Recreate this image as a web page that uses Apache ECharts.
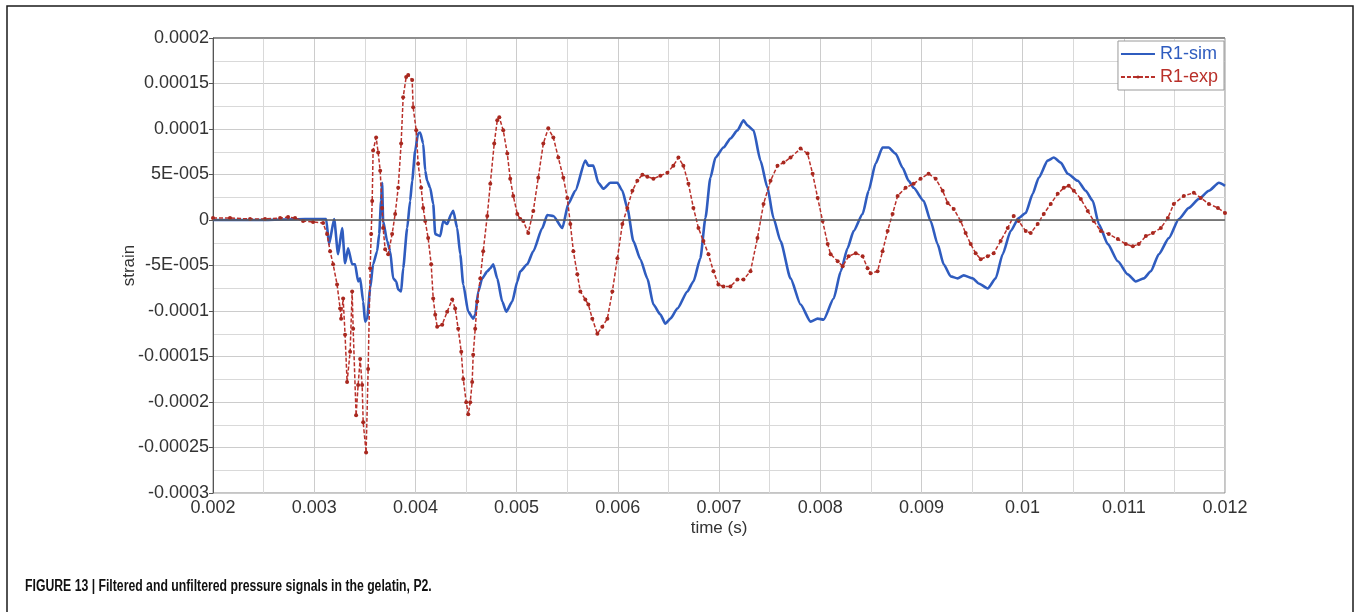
<!DOCTYPE html>
<html>
<head>
<meta charset="utf-8">
<title>R1 strain: simulation vs experiment</title>
<script src="https://cdn.jsdelivr.net/npm/echarts@6/dist/echarts.min.js"></script>
<style>
  html, body { margin: 0; padding: 0; background: #ffffff; }
  #chart { width: 1355px; height: 612px; }
</style>
</head>
<body>
<div id="chart"></div>
<script>
// ---- Data: time in milliseconds, strain in microstrain ----
const simTimeMs = [
  2.000, 2.465, 2.910, 3.088, 3.118, 3.147, 3.197, 3.236, 3.276, 3.305,
  3.335, 3.375, 3.404, 3.434, 3.454, 3.484, 3.503, 3.523, 3.553, 3.582,
  3.622, 3.642, 3.661, 3.671, 3.681, 3.721, 3.751, 3.780, 3.810, 3.830,
  3.859, 3.879, 3.919, 3.948, 3.968, 3.998, 4.027, 4.047, 4.077, 4.097,
  4.116, 4.146, 4.176, 4.196, 4.245, 4.275, 4.314, 4.354, 4.374, 4.413,
  4.443, 4.473, 4.522, 4.571, 4.591, 4.621, 4.660, 4.710, 4.740, 4.769,
  4.809, 4.858, 4.898, 4.957, 5.007, 5.036, 5.105, 5.165, 5.254, 5.303,
  5.363, 5.452, 5.511, 5.580, 5.679, 5.709, 5.758, 5.808, 5.857, 5.926,
  5.996, 6.045, 6.094, 6.154, 6.223, 6.292, 6.352, 6.421, 6.470, 6.520,
  6.589, 6.688, 6.747, 6.816, 6.866, 6.915, 6.965, 7.044, 7.113, 7.182,
  7.242, 7.281, 7.341, 7.410, 7.479, 7.538, 7.608, 7.707, 7.806, 7.905,
  7.975, 8.034, 8.133, 8.203, 8.270, 8.330, 8.419, 8.478, 8.547, 8.616,
  8.676, 8.745, 8.814, 8.874, 8.923, 9.022, 9.091, 9.160, 9.220, 9.289,
  9.358, 9.418, 9.507, 9.566, 9.655, 9.734, 9.803, 9.882, 9.961, 10.031,
  10.100, 10.159, 10.248, 10.308, 10.377, 10.446, 10.545, 10.624, 10.693, 10.753,
  10.842, 10.941, 11.039, 11.118, 11.198, 11.267, 11.346, 11.445, 11.544, 11.643,
  11.742, 11.841, 11.940, 12.000
];
const simMicrostrain = [
  0, 0, 1.1, 1.1, 1.1, -26.5, 1.1, -37.6, -8.8, -47.6,
  -31.0, -48.7, -48.7, -67.5, -64.2, -89.6, -111.7, -108.4, -75.2, -48.7,
  -34.3, -15.5, 21.0, 40.9, -1.1, -23.2, -34.3, -64.2, -67.5, -76.3,
  -78.5, -53.1, -8.8, 21.0, 43.1, 76.3, 95.1, 96.2, 84.1, 54.2,
  43.1, 35.4, 17.7, -15.5, -17.7, -1.1, -4.4, 6.6, 10.0, -8.8,
  -37.6, -70.8, -100.7, -108.4, -104.0, -78.5, -64.2, -56.4, -53.1, -48.7,
  -64.2, -89.6, -100.7, -89.6, -67.5, -56.4, -48.7, -34.3, -8.8, 5.5,
  4.4, -8.8, 17.7, 32.1, 65.3, 59.7, 59.7, 40.9, 34.3, 40.9,
  40.9, 32.1, 13.3, -23.2, -43.1, -64.2, -92.9, -104.0, -113.9, -108.4,
  -97.3, -78.5, -67.5, -42.0, 2.2, 46.5, 68.6, 79.6, 89.6, 98.5,
  109.5, 104.0, 98.5, 65.3, 35.4, 2.2, -23.2, -64.2, -92.9, -111.7,
  -108.4, -109.5, -86.3, -56.4, -31.0, -12.2, 6.6, 32.1, 61.9, 79.6,
  79.6, 73.0, 57.5, 43.1, 35.4, 21.0, -1.1, -26.5, -48.7, -61.9,
  -64.2, -60.8, -64.2, -69.7, -75.2, -64.2, -37.6, -12.2, 2.2, 7.7,
  28.8, 46.5, 65.3, 68.6, 63.1, 50.9, 43.1, 32.1, 21.0, -4.4,
  -26.5, -45.4, -59.7, -67.5, -64.2, -56.4, -37.6, -19.9, 1.1, 13.3,
  23.2, 32.1, 40.9, 37.6
];

const expTimeMs = [
  2.000, 2.168, 2.366, 2.514, 2.663, 2.742, 2.811, 2.890, 2.989, 3.088,
  3.127, 3.157, 3.187, 3.226, 3.256, 3.266, 3.286, 3.305, 3.325, 3.355,
  3.375, 3.385, 3.414, 3.434, 3.454, 3.474, 3.484, 3.513, 3.533, 3.553,
  3.563, 3.573, 3.582, 3.612, 3.632, 3.652, 3.671, 3.681, 3.701, 3.731,
  3.770, 3.800, 3.830, 3.859, 3.879, 3.909, 3.929, 3.968, 3.978, 4.008,
  4.027, 4.057, 4.077, 4.097, 4.126, 4.156, 4.176, 4.196, 4.215, 4.265,
  4.314, 4.364, 4.393, 4.423, 4.453, 4.473, 4.502, 4.522, 4.542, 4.561,
  4.571, 4.591, 4.611, 4.641, 4.670, 4.710, 4.740, 4.779, 4.809, 4.829,
  4.868, 4.908, 4.937, 4.967, 5.007, 5.036, 5.066, 5.115, 5.165, 5.214,
  5.264, 5.313, 5.363, 5.412, 5.462, 5.501, 5.531, 5.561, 5.600, 5.630,
  5.679, 5.709, 5.748, 5.798, 5.847, 5.897, 5.946, 5.996, 6.045, 6.094,
  6.144, 6.193, 6.243, 6.292, 6.352, 6.421, 6.490, 6.549, 6.599, 6.648,
  6.698, 6.747, 6.797, 6.846, 6.896, 6.945, 6.994, 7.044, 7.113, 7.182,
  7.242, 7.311, 7.380, 7.440, 7.509, 7.578, 7.638, 7.707, 7.806, 7.875,
  7.925, 7.975, 8.024, 8.074, 8.103, 8.173, 8.222, 8.281, 8.351, 8.419,
  8.468, 8.498, 8.567, 8.616, 8.666, 8.715, 8.765, 8.844, 8.923, 8.992,
  9.071, 9.141, 9.210, 9.259, 9.319, 9.388, 9.437, 9.487, 9.536, 9.586,
  9.655, 9.714, 9.783, 9.853, 9.912, 9.961, 10.031, 10.080, 10.149, 10.209,
  10.278, 10.347, 10.407, 10.456, 10.506, 10.575, 10.644, 10.703, 10.773, 10.852,
  10.941, 11.020, 11.089, 11.148, 11.218, 11.287, 11.366, 11.435, 11.494, 11.593,
  11.692, 11.761, 11.841, 11.930, 12.000
];
const expMicrostrain = [
  2.2, 2.2, 1.1, 1.1, 2.2, 3.3, 2.2, -1.1, -2.2, -3.3,
  -15.5, -34.3, -48.7, -70.8, -97.3, -108.4, -86.3, -126.1, -178.1, -144.9,
  -78.5, -119.5, -214.6, -181.4, -152.7, -181.4, -222.3, -255.5, -163.7, -53.1,
  -15.5, 21.0, 76.3, 90.7, 74.1, 54.2, 13.3, -8.8, -32.1, -37.6,
  -15.5, 6.6, 35.4, 84.1, 135.0, 157.1, 159.3, 153.8, 123.9, 98.5,
  61.9, 35.4, 13.3, -1.1, -19.9, -48.7, -86.3, -104.0, -117.3, -115.0,
  -100.7, -87.4, -97.3, -119.5, -144.9, -174.8, -200.2, -213.5, -200.2, -178.1,
  -148.2, -119.5, -89.6, -64.2, -34.3, 4.4, 39.8, 84.1, 109.5, 112.8,
  98.5, 73.0, 45.4, 26.5, 6.6, 1.1, -1.1, -14.4, 10.0, 46.5,
  84.1, 100.7, 90.7, 68.6, 46.5, 24.3, -4.4, -34.3, -59.7, -78.5,
  -87.4, -92.9, -108.4, -125.0, -117.3, -108.4, -78.5, -42.0, -4.4, 13.3,
  32.1, 43.1, 49.8, 47.6, 45.4, 48.7, 52.0, 59.7, 68.6, 59.7,
  39.8, 13.3, -8.8, -23.2, -37.6, -56.4, -70.8, -73.0, -73.0, -65.3,
  -65.3, -56.4, -19.9, 17.7, 43.1, 59.7, 63.1, 68.6, 78.5, 73.0,
  50.9, 24.3, -1.1, -26.5, -37.6, -45.4, -50.9, -39.8, -36.5, -39.8,
  -53.1, -58.6, -56.4, -34.3, -12.2, 6.6, 26.5, 35.4, 39.8, 45.4,
  50.9, 45.4, 32.1, 18.8, 12.2, -1.1, -14.4, -26.5, -36.5, -43.1,
  -39.8, -36.5, -23.2, -8.8, 4.4, -1.1, -12.2, -14.4, -4.4, 6.6,
  17.7, 28.8, 35.4, 37.6, 32.1, 23.2, 10.0, -1.1, -12.2, -15.5,
  -21.0, -26.5, -28.8, -26.5, -17.7, -14.4, -8.8, 2.2, 17.7, 26.5,
  29.9, 24.3, 17.7, 13.3, 7.7
];

const seriesNames = ['R1-sim', 'R1-exp'];
const yTickLabels = ['-0.0003', '-0.00025', '-0.0002', '-0.00015', '-0.0001',
  '-5E-005', '0', '5E-005', '0.0001', '0.00015', '0.0002'];
const yMin = -0.0003, yMax = 0.0002, yStep = 0.00005;
const xMin = 0.002, xMax = 0.012, xStep = 0.001;

const SIM_COLOR = '#2f5cbf';
const EXP_COLOR = '#b9302a';
const FONT = "'Liberation Sans', Arial, sans-serif";

function toPairs(tMs, micro) {
  return tMs.map((t, i) => [t / 1000, micro[i] * 1e-6]);
}

const chart = echarts.init(document.getElementById('chart'), null, { renderer: 'canvas' });

chart.setOption({
  backgroundColor: '#ffffff',
  animation: false,
  textStyle: { fontFamily: FONT },
  graphic: [
    {
      type: 'rect',
      shape: { x: 7, y: 6, width: 1346, height: 640 },
      style: { fill: 'none', stroke: '#1a1a1a', lineWidth: 1.5 },
      silent: true
    },
    {
      // plot frame: darker top edge
      type: 'line',
      shape: { x1: 213, y1: 38, x2: 1225, y2: 38 },
      style: { stroke: '#555555', lineWidth: 1 },
      silent: true,
      z: 10
    },
    {
      type: 'text',
      x: 25,
      y: 579,
      scaleX: 0.765,
      style: {
        text: 'FIGURE 13 | Filtered and unfiltered pressure signals in the gelatin, P2.',
        font: "bold 16px 'Liberation Sans', Arial, sans-serif",
        fill: '#111111'
      },
      silent: true
    }
  ],
  grid: {
    left: 213, right: 130, top: 38, bottom: 119,
    show: true, borderColor: '#8a8a8a', borderWidth: 1, backgroundColor: '#ffffff'
  },
  legend: {
    orient: 'vertical',
    right: 131, top: 41,
    backgroundColor: '#ffffff',
    borderColor: '#9a9a9a', borderWidth: 1,
    padding: [4, 6, 4, 2],
    itemGap: 5,
    itemWidth: 34, itemHeight: 4,
    textStyle: { fontSize: 18, fontFamily: FONT },
    data: [
      { name: seriesNames[0], textStyle: { color: SIM_COLOR }, itemStyle: { opacity: 0 } },
      { name: seriesNames[1], textStyle: { color: EXP_COLOR } }
    ]
  },
  xAxis: {
    type: 'value',
    min: xMin, max: xMax, interval: xStep,
    name: 'time (s)',
    nameLocation: 'middle',
    nameGap: 27,
    nameMoveOverlap: false,
    nameTextStyle: { fontSize: 17, color: '#333333' },
    axisLine: { show: false },
    axisTick: { show: false },
    axisLabel: {
      fontSize: 18, color: '#333333', margin: 6,
      formatter: v => String(parseFloat(v.toFixed(6)))
    },
    splitLine: { show: true, lineStyle: { color: '#cccccc', width: 1 } },
    minorTick: { show: false, splitNumber: 2 },
    minorSplitLine: { show: true, lineStyle: { color: '#d9d9d9', width: 1 } }
  },
  yAxis: {
    type: 'value',
    min: yMin, max: yMax, interval: yStep,
    name: 'strain',
    nameLocation: 'middle',
    nameGap: 75,
    nameMoveOverlap: false,
    nameRotate: 90,
    nameTextStyle: { fontSize: 17, color: '#333333' },
    axisLine: { show: true, lineStyle: { color: '#555555', width: 1 } },
    axisTick: { show: true, length: 4, lineStyle: { color: '#555555' } },
    axisLabel: {
      fontSize: 18, color: '#333333', margin: 4,
      formatter: v => yTickLabels[Math.round((v - yMin) / yStep)] || ''
    },
    splitLine: { show: true, lineStyle: { color: '#cccccc', width: 1 } },
    minorTick: { show: false, splitNumber: 2 },
    minorSplitLine: { show: true, lineStyle: { color: '#d9d9d9', width: 1 } }
  },
  series: [
    {
      name: seriesNames[0],
      type: 'line',
      data: toPairs(simTimeMs, simMicrostrain),
      symbol: 'none',
      smooth: 0.2,
      smoothMonotone: 'x',
      lineStyle: { color: SIM_COLOR, width: 2.6 },
      itemStyle: { color: SIM_COLOR },
      z: 3,
      markLine: {
        silent: true,
        symbol: 'none',
        label: { show: false },
        lineStyle: { color: '#5a5a5a', width: 1.5, type: 'solid' },
        data: [{ yAxis: 0 }]
      }
    },
    {
      name: seriesNames[1],
      type: 'line',
      data: toPairs(expTimeMs, expMicrostrain),
      symbol: 'circle',
      symbolSize: 4,
      showAllSymbol: true,
      lineStyle: { color: EXP_COLOR, width: 1.5, type: [4, 2] },
      itemStyle: { color: '#a8281f', borderWidth: 0 },
      z: 4
    }
  ]
});
</script>
</body>
</html>
